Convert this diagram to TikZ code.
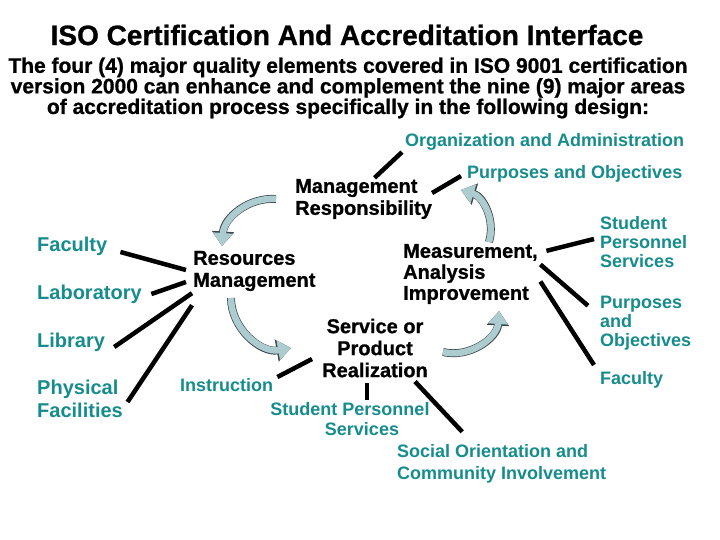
\documentclass[tikz,border=0pt]{standalone}
\usepackage{fontspec}
\setmainfont{Liberation Sans}
\newfontfamily\heavyfont{Liberation Sans Bold}[FakeBold=0.9]
\usetikzlibrary{arrows.meta,positioning}

\definecolor{areateal}{RGB}{22,140,140}
\definecolor{turnfill}{RGB}{172,204,208}
\definecolor{turnedge}{RGB}{58,70,72}

\tikzset{
  head/.style={font=\heavyfont\fontsize{28}{30}\selectfont, inner sep=0pt},
  intro/.style={font=\heavyfont\fontsize{21}{19.5}\selectfont, align=center, inner sep=0pt},
  element/.style={font=\heavyfont\fontsize{20}{22}\selectfont, align=left, inner sep=0pt},
  area/.style={text=areateal, font=\bfseries\fontsize{18}{19}\selectfont, align=left, inner sep=0pt},
  bigarea/.style={area, font=\bfseries\fontsize{20}{23}\selectfont},
  link/.style={line width=4.5pt},
  turn/.style={draw=turnfill, line width=6.5pt, -{Triangle[length=13pt,width=19pt]},
    preaction={draw=turnedge, line width=7.9pt, -{Triangle[length=14.5pt,width=21.5pt]}}}
}

\begin{document}
\begin{tikzpicture}[x=1pt,y=-1pt]

  \useasboundingbox[fill=white] (0,0) rectangle (720,540);

  % heading
  \node[head] (title) at (347,35) {ISO Certification And Accreditation Interface};
  \node[intro] (intro) at (348,88) {The four (4) major quality elements covered in ISO 9001 certification\\
    version 2000 can enhance and complement the nine (9) major areas\\
    of accreditation process specifically in the following design:};

  % the four ISO elements
  \node[element, anchor=west] (mgmt) at (295,199) {Management\\Responsibility};
  \node[element, anchor=west] (res)  at (193,271) {Resources\\Management};
  \node[element, anchor=west, font=\heavyfont\fontsize{20}{21}\selectfont] (meas) at (403,274)
    {Measurement,\\Analysis\\Improvement};
  \node[element, align=center] (serv) at (375,348) {Service or\\Product\\Realization};

  % accreditation areas
  \node[area, anchor=west] (org)   at (405,142) {Organization and Administration};
  \node[area, anchor=west] (purp1) at (467,174) {Purposes and Objectives};
  \node[bigarea, anchor=west] (fac1)  at (37,246) {Faculty};
  \node[bigarea, anchor=west] (lab)   at (37,294) {Laboratory};
  \node[bigarea, anchor=west] (lib)   at (37,342) {Library};
  \node[bigarea, anchor=west] (phys)  at (37,399) {Physical\\Facilities};
  \node[area, anchor=west] (stud1) at (600,242) {Student\\Personnel\\Services};
  \node[area, anchor=west] (purp2) at (600,323) {Purposes\\and\\Objectives};
  \node[area, anchor=west] (fac2)  at (600,380) {Faculty};
  \node[area, anchor=west] (instr) at (180,385) {Instruction};
  \node[area, align=center, font=\bfseries\fontsize{18}{20}\selectfont] (stud2) at (350,419)
    {Student Personnel\\\hspace*{24pt}Services};
  \node[area, anchor=west, font=\bfseries\fontsize{18}{22}\selectfont] (social) at (397,464)
    {Social Orientation and\\Community Involvement};

  % links
  \draw[link] ([xshift=11pt,yshift=1pt]mgmt.north) -- ([xshift=-3pt,yshift=-1.5pt]org.south west);
  \draw[link] ([yshift=6pt]mgmt.east) -- ([xshift=-6pt,yshift=-2pt]purp1.west);
  \draw[link] ([xshift=13pt,yshift=-6pt]fac1.east) -- ([xshift=-7pt,yshift=1pt]res.west);
  \draw[link] ([xshift=9.5pt]lab.east) -- ([xshift=-7pt,yshift=-11pt]res.west);
  \draw[link] ([xshift=9pt,yshift=-5pt]lib.east) -- ([xshift=-1pt,yshift=-2pt]res.south west);
  \draw[link] ([xshift=4.5pt,yshift=-3pt]phys.east) -- ([xshift=-1pt,yshift=-14pt]res.south west);
  \draw[link] ([xshift=4pt,yshift=8pt]instr.east) -- ([xshift=-10pt,yshift=-11pt]serv.west);
  \draw[link] ([xshift=8.5pt,yshift=-7pt]meas.north east) -- ([xshift=-6pt,yshift=3pt]stud1.west);
  \draw[link] ([xshift=2.5pt,yshift=9.5pt]meas.east) -- ([xshift=-12pt,yshift=-10pt]purp2.north west);
  \draw[link] ([xshift=2.5pt,yshift=-7.5pt]meas.east) -- ([xshift=-6pt,yshift=15pt]fac2.west);
  \draw[link] ([xshift=-8pt,yshift=-5pt]serv.south) -- ([xshift=17pt,yshift=2.6pt]stud2.north);
  \draw[link] ([xshift=-13pt,yshift=-4pt]serv.south east) -- ([xshift=-39.5pt,yshift=12.6pt]social.north);

  % cycle arrows
  \coordinate (t1) at (276,199);  \coordinate (h1) at (222,246);
  \coordinate (t2) at (231,298);  \coordinate (h2) at (291,348);
  \coordinate (t3) at (443,352);  \coordinate (h3) at (499,311);
  \coordinate (t4) at (489,242);  \coordinate (h4) at (461,190);
  \draw[turn] (t1) to[bend right=45] (h1);
  \draw[turn] (t2) to[bend right=50] (h2);
  \draw[turn] (t3) to[bend right=50] (h3);
  \draw[turn] (t4) to[bend right=45] (h4);

\end{tikzpicture}
\end{document}
